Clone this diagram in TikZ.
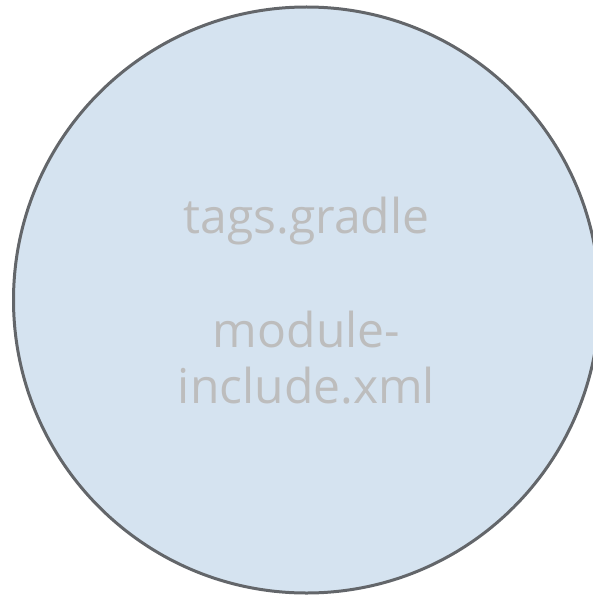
\documentclass[tikz,border=0pt]{standalone}
\usepackage{fontspec}
\setmainfont{Open Sans}
\usepackage{tikz}
\usetikzlibrary{positioning}

\definecolor{bubblefill}{HTML}{D5E3F0}
\definecolor{bubbleline}{HTML}{63666A}
\definecolor{bubbletext}{HTML}{BDBDBD}

\begin{document}
\begin{tikzpicture}[x=1pt,y=-1pt,
    bubble/.style={circle,draw=bubbleline,fill=bubblefill,line width=3pt,
      minimum size=586pt,inner sep=0pt},
    label/.style={align=center,text=bubbletext,
      font=\fontsize{48}{56}\selectfont}]
  \useasboundingbox (0,0) rectangle (593,596);
  \node[bubble] (files) at (306.5,300) {};
  \node[label]  (names) at (306.5,301)
    {tags.gradle\\[58pt]module-\\include.xml};
\end{tikzpicture}
\end{document}
